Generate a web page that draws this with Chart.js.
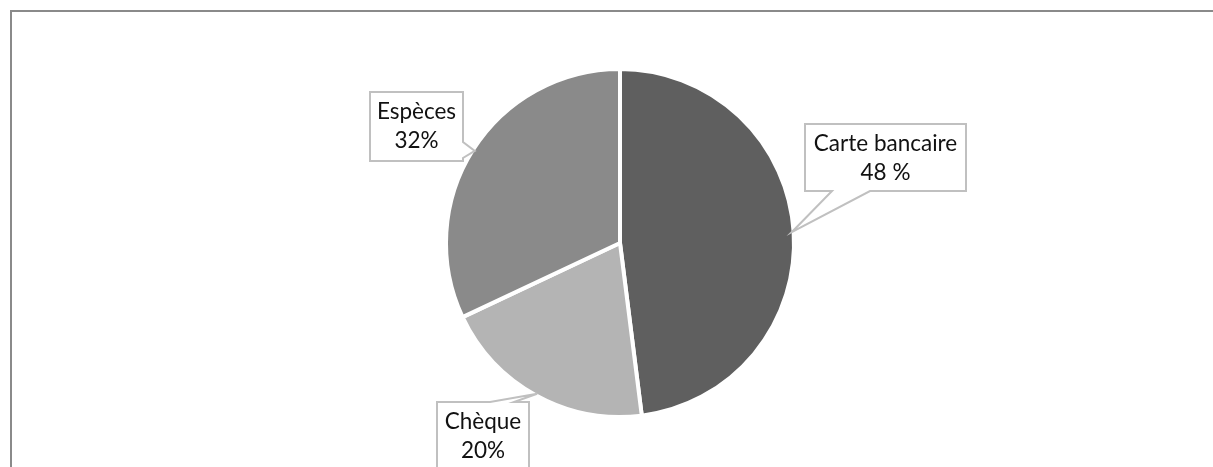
<!DOCTYPE html>
<html>
<head>
<meta charset="utf-8">
<script src="https://cdn.jsdelivr.net/npm/chart.js@4/dist/chart.umd.min.js"></script>
<style>
  html, body { margin: 0; padding: 0; background: #fff; overflow: hidden; }
  #frame {
    position: absolute; left: 10px; top: 10px; width: 1400px; height: 600px;
    border: 2px solid #8a8a8a; box-sizing: border-box;
  }
  #wrap { position: absolute; left: 0; top: 0; width: 1213px; height: 467px; }
</style>
</head>
<body>
<div id="frame"></div>
<div id="wrap"><canvas id="pieChart"></canvas></div>
<script>
const categories = ["Carte bancaire", "Chèque", "Espèces"];
const shares = [48, 20, 32];
const shareLabels = ["48 %", "20%", "32%"];
const sliceColors = ["#5f5f5f", "#b4b4b4", "#8a8a8a"];

// callout boxes (pixel layout), wedge base given on one edge of the box
const callouts = [
  { x: 805, y: 124, w: 161, h: 67, side: "bottom", a: 832, b: 870 },
  { x: 437, y: 402, w: 92, h: 90, side: "top", a: 490, b: 514 },
  { x: 370, y: 92, w: 93, h: 69, side: "right", a: 142, b: 158 },
];

const calloutPlugin = {
  id: "callouts",
  afterDatasetsDraw(chart) {
    const ctx = chart.ctx;
    const arcs = chart.getDatasetMeta(0).data;
    arcs.forEach((arc, i) => {
      const p = arc.getProps(["x", "y", "startAngle", "endAngle", "outerRadius"], true);
      const mid = (p.startAngle + p.endAngle) / 2;
      const tx = p.x + Math.cos(mid) * (p.outerRadius - 2);
      const ty = p.y + Math.sin(mid) * (p.outerRadius - 2);
      const c = callouts[i];
      const r = c.x + c.w, btm = c.y + c.h;
      ctx.save();
      ctx.beginPath();
      ctx.moveTo(c.x, c.y);
      if (c.side === "top") {
        ctx.lineTo(c.a, c.y); ctx.lineTo(tx, ty); ctx.lineTo(c.b, c.y);
      }
      ctx.lineTo(r, c.y);
      if (c.side === "right") {
        ctx.lineTo(r, c.a); ctx.lineTo(tx, ty); ctx.lineTo(r, c.b);
      }
      ctx.lineTo(r, btm);
      if (c.side === "bottom") {
        ctx.lineTo(c.b, btm); ctx.lineTo(tx, ty); ctx.lineTo(c.a, btm);
      }
      ctx.lineTo(c.x, btm);
      ctx.closePath();
      ctx.fillStyle = "#ffffff";
      ctx.fill();
      ctx.strokeStyle = "#c0c0c0";
      ctx.lineWidth = 2;
      ctx.stroke();

      ctx.fillStyle = "#111111";
      ctx.font = "22.5px Lato";
      ctx.textAlign = "center";
      ctx.textBaseline = "alphabetic";
      const cx = c.x + c.w / 2;
      ctx.fillText(categories[i], cx, c.y + 27);
      ctx.fillText(shareLabels[i], cx, c.y + 56);
      ctx.restore();
    });
  },
};

const ctx = document.getElementById("pieChart").getContext("2d");
const pieChart = new Chart(ctx, {
  type: "pie",
  data: {
    labels: categories,
    datasets: [
      {
        data: shares,
        backgroundColor: sliceColors,
        borderColor: "#ffffff",
        borderWidth: 4,
      },
    ],
  },
  options: {
    responsive: true,
    maintainAspectRatio: false,
    animation: false,
    radius: 174,
    layout: {
      padding: { left: 27, right: 0, top: 19, bottom: 0 },
    },
    plugins: {
      legend: { display: false },
      tooltip: { enabled: false },
    },
  },
  plugins: [calloutPlugin],
});
</script>
</body>
</html>
